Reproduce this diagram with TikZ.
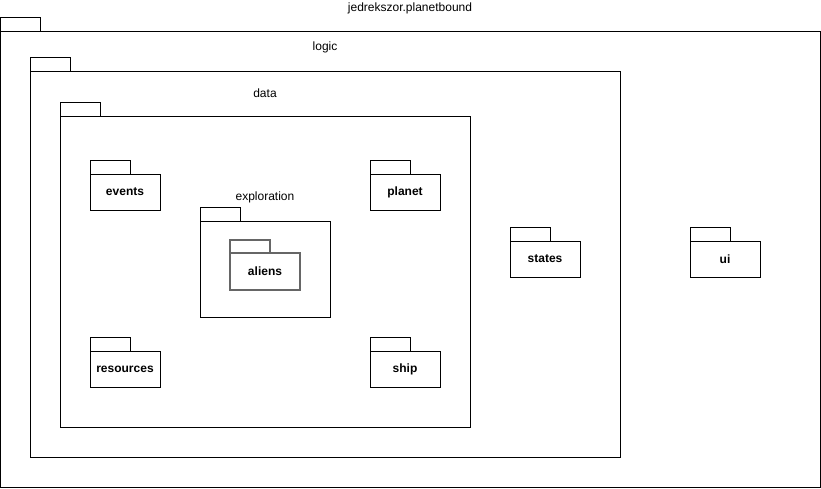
\documentclass[tikz,border=0pt]{standalone}
\usepackage{fontspec}
\setmainfont{Liberation Sans}
\begin{document}
\begin{tikzpicture}[x=1pt,y=-1pt,
  pkgbody/.style={draw=black,line width=1pt,rectangle,inner sep=0pt,outer sep=0pt,fill=white},
  pkgtab/.style={draw=black,line width=1pt,rectangle,inner sep=0pt,outer sep=0pt,minimum width=40pt,minimum height=14pt,anchor=south west},
  leaf/.style={pkgbody,minimum width=70pt,minimum height=36pt,font=\fontsize{12}{14}\selectfont\bfseries},
  title/.style={font=\fontsize{12}{14}\selectfont,inner sep=0pt},
  greyline/.style={draw=black!60,line width=1.5pt}]
\useasboundingbox (0,0) rectangle (821,488);
% outer package
\node[pkgbody,minimum width=820pt,minimum height=456pt] (root) at (410,259) {};
\node[pkgtab] (roottab) at (root.north west) {};
\node[title] (roottitle) at (410,8) {jedrekszor.planetbound};
% logic
\node[pkgbody,minimum width=590pt,minimum height=386pt] (logic) at (325,264) {};
\node[pkgtab] (logictab) at (logic.north west) {};
\node[title] (logictitle) at (325,47) {logic};
% data
\node[pkgbody,minimum width=410pt,minimum height=311pt] (data) at (265,271.5) {};
\node[pkgtab] (datatab) at (data.north west) {};
\node[title] (datatitle) at (265,93) {data};
% leaves in data
\node[leaf] (events) at (125,192) {events};
\node[pkgtab] (eventstab) at (events.north west) {};
\node[leaf] (planet) at (405,192) {planet};
\node[pkgtab] (planettab) at (planet.north west) {};
\node[leaf] (resources) at (125,369) {resources};
\node[pkgtab] (resourcestab) at (resources.north west) {};
\node[leaf] (ship) at (405,369) {ship};
\node[pkgtab] (shiptab) at (ship.north west) {};
% exploration
\node[pkgbody,minimum width=130pt,minimum height=96pt] (exploration) at (265,269) {};
\node[pkgtab] (explorationtab) at (exploration.north west) {};
\node[title] (explorationtitle) at (265,197) {exploration};
\node[leaf,greyline,minimum height=37pt] (aliens) at (265,271.5) {aliens};
\node[pkgtab,greyline,minimum height=13pt] (alienstab) at (aliens.north west) {};
% states, ui
\node[leaf] (states) at (545,259) {states};
\node[pkgtab] (statestab) at (states.north west) {};
\node[leaf] (ui) at (725,259) {ui};
\node[pkgtab] (uitab) at (ui.north west) {};
\end{tikzpicture}
\end{document}
